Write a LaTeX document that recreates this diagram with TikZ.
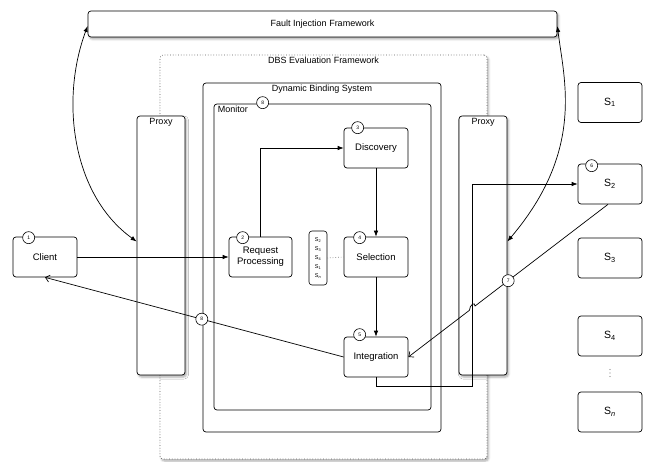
\documentclass[tikz,border=0pt]{standalone}
\usepackage{fontspec}
\setmainfont{Liberation Sans}
\usetikzlibrary{arrows.meta,calc,shadows,shadows.blur}
\begin{document}
\begin{tikzpicture}[x=1pt,y=-1pt,
 box/.style={draw, rounded corners=3pt, line width=0.7pt, fill=white, font=\fontsize{9.5}{11}\selectfont, align=center, inner sep=0pt},
 num/.style={draw, circle, fill=white, line width=0.6pt, inner sep=0pt, minimum size=12pt, font=\fontsize{5}{6}\selectfont},
 conn/.style={line width=0.7pt},
 fa/.style={-{Latex[length=6pt,width=4.5pt]}},
 oa/.style={-{Straight Barb[length=4pt,width=7pt]}},
 shad/.style={blur shadow={shadow xshift=1.5pt, shadow yshift=-2pt, shadow blur steps=4, shadow opacity=35}},
 titl/.style={font=\fontsize{9}{11}\selectfont, inner sep=0pt}
]
\useasboundingbox (0,0) rectangle (645,462);

% frames
\node[draw=gray!75!black, dotted, rounded corners=3pt, line width=0.7pt, fill=white, shad, minimum width=327pt, minimum height=404pt, inner sep=0pt] (eval) at (323.5,257) {};
\node[titl, anchor=north] (evalt) at ($(eval.north)+(0,2)$) {DBS Evaluation Framework};
\node[box, minimum width=238pt, minimum height=349pt] (dbs) at (322,257.5) {};
\node[titl, anchor=north] (dbst) at ($(dbs.north)+(0,2)$) {Dynamic Binding System};
\node[box, minimum width=217pt, minimum height=306pt] (mon) at (322.5,257) {};
\node[titl, anchor=north west] (mont) at ($(mon.north west)+(4,2)$) {Monitor};

% fault injection
\node[box, shad, font=\fontsize{9}{11}\selectfont, minimum width=469pt, minimum height=26pt] (fif) at (322.5,24) {Fault Injection Framework};

% proxies
\node[box, shad, minimum width=48pt, minimum height=259pt] (lproxy) at (161,245.5) {};
\node[titl, anchor=north] (lproxyt) at ($(lproxy.north)+(0,2)$) {Proxy};
\node[box, shad, minimum width=48pt, minimum height=259pt] (rproxy) at (483,245.5) {};
\node[titl, anchor=north] (rproxyt) at ($(rproxy.north)+(0,2)$) {Proxy};

% components
\node[box, minimum width=64pt, minimum height=40pt] (client) at (45,257) {Client};
\node[box, minimum width=63pt, minimum height=40pt] (req) at (260.5,257) {Request\\Processing};
\node[box, minimum width=64pt, minimum height=40pt] (disc) at (376,148) {Discovery};
\node[box, minimum width=64pt, minimum height=40pt] (sel) at (376,257) {Selection};
\node[box, minimum width=64pt, minimum height=40pt] (intg) at (376,357) {Integration};
\node[box, minimum width=18pt, minimum height=54pt, font=\fontsize{5.5}{9}\selectfont, line width=0.6pt] (slist) at (318,258)
  {S\textsubscript{2}\\S\textsubscript{3}\\S\textsubscript{4}\\S\textsubscript{1}\\S\textsubscript{\itshape n}};

% services
\node[box, font=\fontsize{10.5}{12}\selectfont, minimum width=64pt, minimum height=40pt] (s1) at (610,102.5) {S\textsubscript{1}};
\node[box, font=\fontsize{10.5}{12}\selectfont, minimum width=64pt, minimum height=40pt] (s2) at (610,184) {S\textsubscript{2}};
\node[box, font=\fontsize{10.5}{12}\selectfont, minimum width=64pt, minimum height=40pt] (s3) at (610,258) {S\textsubscript{3}};
\node[box, font=\fontsize{10.5}{12}\selectfont, minimum width=64pt, minimum height=40pt] (s4) at (610,336) {S\textsubscript{4}};
\node[box, font=\fontsize{10.5}{12}\selectfont, minimum width=64pt, minimum height=40pt] (sn) at (610,412) {S\textsubscript{\itshape n}};
\fill[gray] (610,369.5) circle (0.55) (610,373) circle (0.55) (610,376.5) circle (0.55);

% connectors
\draw[conn,fa] (client.east) -- (req.west);
\draw[conn,fa] (req.north) |- (disc.west);
\draw[conn,fa] (disc.south) -- (sel.north);
\draw[conn,fa] (sel.south) -- (intg.north);
\draw[gray, dotted, line width=0.7pt] (slist.east) -- (sel.west);
\coordinate (r1) at (472,386);
\draw[conn,fa] (intg.south) |- (r1) |- (s2.west);

\coordinate (s2b) at ($(s2.south)+(-2,0)$);
\coordinate (j1) at ($(s2b)!0.666!(intg.east)$);
\coordinate (j2) at ($(s2b)!0.694!(intg.east)$);
\draw[conn,oa] (s2b) -- (j1) .. controls ($(j1)+(0,-5)$) and ($(j2)+(0,-5)$) .. (j2) -- (intg.east);
\draw[conn,oa] (intg.west) -- (client.south);

\coordinate (fl) at ($(fif.west)+(0,2)$);
\coordinate (fr) at ($(fif.east)+(0,2)$);
\coordinate (pl) at ($(lproxy.west)+(0,-4)$);
\coordinate (pr) at ($(rproxy.east)+(0,-4)$);
\draw[conn,{Latex[length=6pt,width=4.5pt]}-{Latex[length=6pt,width=4.5pt]}] (fl) .. controls (60,100) and (72,195) .. (pl);
\draw[conn,{Latex[length=6pt,width=4.5pt]}-{Latex[length=6pt,width=4.5pt]}] (fr) .. controls (564,80) and (585,150) .. (pr);

% numbers
\node[num] (n1) at ($(client.north west)+(16,1)$) {1};
\node[num] (n2) at ($(req.north west)+(14,1)$) {2};
\node[num] (n3) at ($(disc.north west)+(14,0)$) {3};
\node[num] (n4) at ($(sel.north west)+(16,1)$) {4};
\node[num] (n5) at ($(intg.north west)+(16,-2)$) {5};
\node[num] (n6) at ($(s2.north west)+(14,2)$) {6};
\node[num] (n7) at ($(s2b)!0.5!(intg.east)$) {7};
\node[num] (n8a) at ($(mon.north west)+(49,-1)$) {8};
\node[num] (n8b) at ($(intg.west)!0.475!(client.south)$) {8};
\end{tikzpicture}
\end{document}
